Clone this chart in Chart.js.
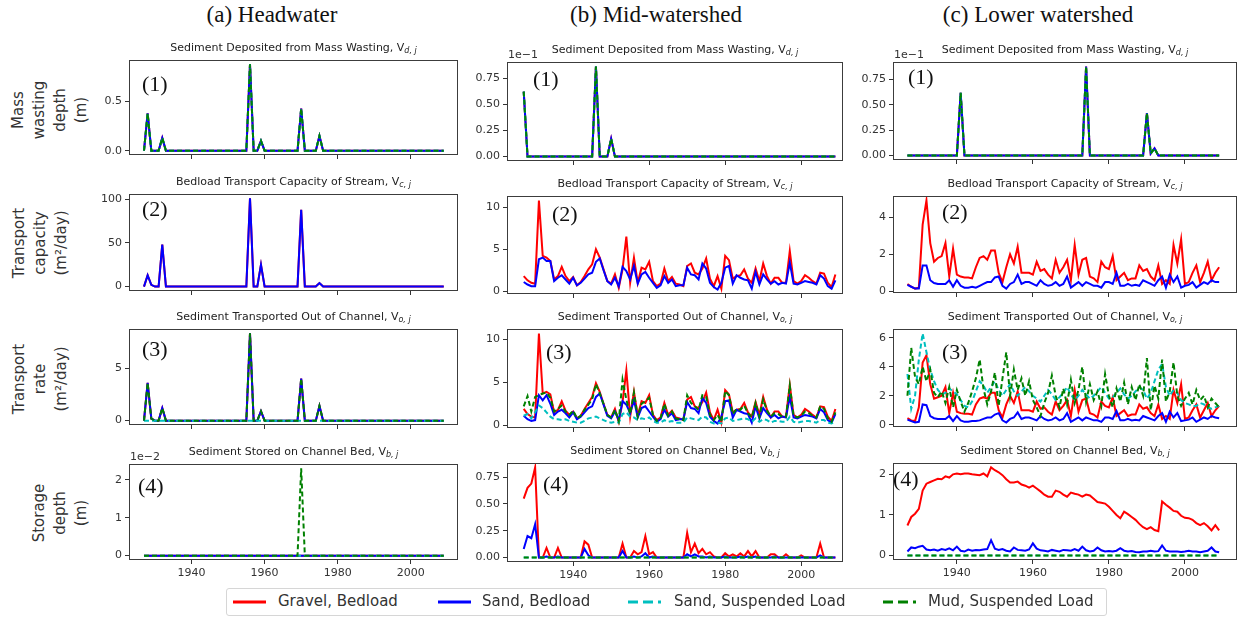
<!DOCTYPE html>
<html>
<head>
<meta charset="utf-8">
<script src="https://cdn.jsdelivr.net/npm/chart.js@4.4.1/dist/chart.umd.min.js"></script>
<style>
  body { margin:0; background:#fff; width:1244px; height:618px; position:relative; overflow:hidden; font-family:"DejaVu Sans", sans-serif; }
  canvas { position:absolute; }
  .colhead { position:absolute; top:2px; font-family:"Liberation Serif","Times New Roman",serif; font-size:23px; color:#111; transform:translateX(-50%); white-space:nowrap; }
  .ptitle { position:absolute; font-size:11px; color:#222; transform:translate(-50%,-50%); white-space:nowrap; }
  .ptitle sub { font-size:8px; font-style:italic; vertical-align:-2px; }
  .num { position:absolute; font-family:"Liberation Serif","Times New Roman",serif; font-size:22px; line-height:22px; color:#111; }
  .offset { position:absolute; font-size:11px; color:#333; transform:translateY(-50%); }
  .rowlab { position:absolute; font-size:15px; line-height:21px; color:#333; text-align:center; white-space:nowrap; transform:translate(-50%,-50%) rotate(-90deg); }
  .legend { position:absolute; left:226px; top:588px; width:879px; height:26px; border:1px solid #d6d6d6; border-radius:3px; background:#fff; }
  .legend svg { position:absolute; top:6px; }
  .legend span { position:absolute; top:3px; font-size:15px; color:#333; white-space:nowrap; }
</style>
</head>
<body>
<script>
const years = Array.from({length: 83}, (_, i) => 1927 + i);
const xTicks = [1940, 1960, 1980, 2000];

const flatZero = [
  0,0,0,0,0,0,0,0,0,0, 0,0,0,0,0,0,0,0,0,0, 0,0,0,0,0,0,0,0,0,0,
  0,0,0,0,0,0,0,0,0,0, 0,0,0,0,0,0,0,0,0,0, 0,0,0,0,0,0,0,0,0,0,
  0,0,0,0,0,0,0,0,0,0, 0,0,0,0,0,0,0,0,0,0, 0,0,0];

// (a) headwater
const headMass = [
  0,0.38,0,0,0,0.13,0,0,0,0, 0,0,0,0,0,0,0,0,0,0, 0,0,0,0,0,0,0,0,0,0.88,
  0,0,0.10,0,0,0,0,0,0,0, 0,0,0,0.43,0,0,0,0,0.15,0, 0,0,0,0,0,0,0,0,0,0,
  0,0,0,0,0,0,0,0,0,0, 0,0,0,0,0,0,0,0,0,0, 0,0,0];
const headCap = [
  0,13,2,0,0,48,0,0,0,0, 0,0,0,0,0,0,0,0,0,0, 0,0,0,0,0,0,0,0,0,101,
  0,0,25,0,0,0,0,0,0,0, 0,0,0,88,0,0,0,0,4,0, 0,0,0,0,0,0,0,0,0,0,
  0,0,0,0,0,0,0,0,0,0, 0,0,0,0,0,0,0,0,0,0, 0,0,0];
const headRate = [
  0,3.6,0.2,0,0,1.2,0,0,0,0, 0,0,0,0,0,0,0,0,0,0, 0,0,0,0,0,0,0,0,0,8.3,
  0,0,0.9,0,0,0,0,0,0,0, 0,0,0,4.0,0,0,0,0,1.4,0, 0,0,0,0,0,0,0,0,0,0,
  0,0,0,0,0,0,0,0,0,0, 0,0,0,0,0,0,0,0,0,0, 0,0,0];
const headStoreMud = [
  0,0,0,0,0,0,0,0,0,0, 0,0,0,0,0,0,0,0,0,0, 0,0,0,0,0,0,0,0,0,0,
  0,0,0,0,0,0,0,0,0,0, 0,0,0,0.023,0,0,0,0,0,0, 0,0,0,0,0,0,0,0,0,0,
  0,0,0,0,0,0,0,0,0,0, 0,0,0,0,0,0,0,0,0,0, 0,0,0];

// (b) mid-watershed
const midMass = [
  0.062,0,0,0,0,0,0,0,0,0, 0,0,0,0,0,0,0,0,0,0.086, 0,0,0,0.017,0,0,0,0,0,0,
  0,0,0,0,0,0,0,0,0,0, 0,0,0,0,0,0,0,0,0,0, 0,0,0,0,0,0,0,0,0,0,
  0,0,0,0,0,0,0,0,0,0, 0,0,0,0,0,0,0,0,0,0, 0,0,0];
const midCapGravel = [
  1.8,1.3,1.0,0.9,10.8,4.2,4.0,3.6,1.4,1.8, 2.9,1.8,1.2,1.7,0.7,1.1,1.8,2.6,3.2,5.0,
  4.0,2.6,1.2,0.9,2.0,0.4,2.6,6.5,1.0,4.0, 1.0,2.8,2.6,3.5,1.2,0.6,0.9,2.7,1.2,1.7,
  0.9,0.8,0.6,3.0,3.3,2.2,2.0,2.7,3.9,1.5, 0.6,1.8,0.3,4.2,3.7,1.5,1.8,1.9,2.6,1.5,
  1.0,2.7,1.2,3.3,1.8,0.9,1.6,1.6,1.0,1.0, 4.8,1.2,0.9,1.2,1.9,1.6,1.2,0.9,2.2,2.1,
  1.0,0.5,2.0];
const midCapSand = [
  1.1,0.8,0.6,0.6,3.8,4.0,3.6,3.6,1.2,1.6, 1.9,1.4,0.9,1.6,0.7,1.0,1.5,2.0,2.2,3.5,
  3.9,2.5,1.2,0.8,1.6,0.6,2.9,2.4,1.4,3.0, 0.9,2.0,2.3,1.6,1.0,0.4,0.7,1.8,1.0,1.4,
  0.6,0.7,0.7,2.8,2.0,1.9,1.4,3.3,2.7,1.0, 0.5,0.2,1.0,2.8,3.0,0.9,1.9,1.6,1.4,1.3,
  0.3,2.3,0.8,2.0,1.4,0.9,1.2,0.8,1.0,0.9, 3.4,0.9,0.8,1.0,1.2,1.1,1.0,0.8,1.9,1.5,
  0.6,0.3,1.3];
const midRateGravel = [
  1.9,1.3,1.0,0.9,10.7,3.7,3.9,3.6,1.5,1.8, 2.8,1.7,1.2,1.6,0.8,1.1,1.9,2.6,3.3,4.9,
  3.9,2.5,1.2,0.9,1.9,0.4,2.7,6.4,1.0,3.9, 1.1,2.8,2.6,3.5,1.2,0.6,0.9,2.6,1.2,1.7,
  0.9,0.8,0.6,3.0,3.3,2.2,2.0,2.7,3.8,1.5, 0.6,1.8,0.3,4.1,3.6,1.5,1.8,1.9,2.6,1.5,
  1.0,2.7,1.2,3.3,1.8,0.9,1.6,1.6,1.0,1.0, 4.7,1.2,0.9,1.2,1.9,1.6,1.2,0.9,2.2,2.1,
  1.0,0.5,1.9];
const midRateSand = [
  1.1,0.7,0.5,0.6,3.5,2.9,3.5,2.5,1.2,1.6, 1.8,1.4,0.9,1.5,0.7,1.0,1.5,2.0,2.2,3.3,
  3.7,2.4,1.1,0.8,1.6,0.6,2.8,2.4,1.4,2.9, 0.9,2.0,2.2,1.6,1.0,0.4,0.7,1.8,1.0,1.4,
  0.6,0.7,0.7,2.7,2.0,1.9,1.4,3.2,2.6,1.0, 0.5,0.2,1.0,2.8,2.9,0.9,1.8,1.6,1.4,1.3,
  0.3,2.2,0.8,2.0,1.4,0.9,1.2,0.8,1.0,0.9, 3.3,0.9,0.8,1.0,1.2,1.1,1.0,0.8,1.9,1.5,
  0.6,0.3,1.3];
const midRateSandSusp = [
  1.1,1.3,0.8,1.5,2.3,2.0,1.5,1.0,0.7,0.7, 0.6,0.7,0.5,0.4,0.3,0.3,0.5,0.8,0.9,1.0,
  0.8,0.6,0.4,0.3,0.4,0.3,1.3,1.5,1.0,0.9, 0.6,0.8,0.7,0.9,0.5,0.3,0.3,0.6,0.4,0.5,
  0.3,0.3,0.3,0.9,0.8,0.7,0.6,1.0,0.9,0.4, 0.2,0.3,0.2,0.8,0.9,0.5,0.6,0.7,0.8,0.7,
  0.4,0.8,0.4,0.7,0.6,0.3,0.5,0.5,0.4,0.4, 1.0,0.4,0.3,0.4,0.5,0.5,0.4,0.3,0.6,0.6,
  0.3,0.2,0.5];
const midRateMud = [
  2.2,3.4,1.6,3.3,3.5,3.7,3.8,3.2,1.6,1.9, 2.3,1.6,1.2,1.7,0.8,1.1,1.8,2.4,3.0,4.8,
  3.7,2.5,1.2,0.9,1.8,0.5,5.3,3.0,1.3,3.8, 1.0,2.5,2.8,3.2,1.2,0.5,0.8,2.5,1.1,1.6,
  0.8,0.7,0.6,3.5,2.6,2.2,1.8,3.5,3.3,1.2, 0.6,1.2,0.4,4.0,3.5,1.3,1.9,1.8,2.3,1.4,
  0.9,2.6,1.0,3.0,1.7,1.0,1.4,1.3,1.0,1.0, 4.6,1.1,0.9,1.1,1.6,1.4,1.1,0.9,2.2,1.9,
  0.8,0.4,1.5];
const midStoreGravel = [
  0.55,0.65,0.69,0.84,0,0,0.09,0,0,0.09, 0,0,0,0,0,0,0.15,0.12,0,0,
  0,0,0,0,0,0,0.13,0,0,0.06, 0.03,0.05,0.2,0.03,0.05,0,0,0,0,0,
  0,0,0,0.23,0.05,0.13,0.04,0.08,0.03,0.05, 0.01,0,0,0.04,0.01,0.03,0.01,0.04,0.01,0.06,
  0.01,0.06,0,0,0,0.03,0.03,0,0,0.03, 0,0,0,0.02,0,0,0,0,0.13,0,
  0,0,0];
const midStoreSand = [
  0.08,0.2,0.18,0.31,0,0,0.01,0,0,0.01, 0,0,0,0,0,0,0.08,0.02,0,0,
  0,0,0,0,0,0,0.06,0,0,0.01, 0,0.01,0.04,0,0.01,0,0,0,0,0,
  0,0,0,0.03,0.01,0.03,0.01,0.01,0,0.01, 0,0,0,0.01,0,0,0,0.01,0,0.01,
  0,0.01,0,0,0,0,0.01,0,0,0, 0,0,0,0,0,0,0,0,0.02,0,
  0,0,0];

// (c) lower watershed
const lowMass = [
  0,0,0,0,0,0,0,0,0,0, 0,0,0,0,0.062,0,0,0,0,0, 0,0,0,0,0,0,0,0,0,0,
  0,0,0,0,0,0,0,0,0,0, 0,0,0,0,0,0,0,0.088,0,0, 0,0,0,0,0,0,0,0,0,0,
  0,0,0,0.042,0.002,0.007,0,0,0,0, 0,0,0,0,0,0,0,0,0,0, 0,0,0];
const lowCapGravel = [
  0.4,0.25,0.15,0.2,3.6,4.9,2.6,1.6,1.8,1.9, 2.6,0.8,2.3,0.9,0.8,0.75,0.75,0.7,1.3,1.8,
  1.9,1.7,2.2,2.2,1.0,0.5,1.3,2.0,1.5,2.4, 1.0,1.0,1.0,0.9,1.6,1.1,1.2,0.9,0.7,1.7,
  1.0,1.3,1.7,0.6,2.5,0.9,1.7,1.8,0.8,0.7, 0.5,1.6,1.3,1.2,1.9,0.6,0.8,1.0,0.6,0.7,
  0.7,1.4,1.1,1.2,0.8,0.6,1.4,0.4,0.6,0.4, 2.5,1.5,2.8,0.4,0.5,1.0,1.4,0.5,1.0,1.6,
  0.6,1.0,1.3];
const lowCapSand = [
  0.35,0.25,0.15,0.15,1.4,1.4,0.6,0.45,0.4,0.4, 0.4,0.6,0.25,0.6,0.3,0.2,0.2,0.25,0.2,0.3,
  0.4,0.5,0.5,0.75,0.8,0.3,0.15,0.4,0.5,0.9, 0.4,0.5,0.5,0.4,0.3,0.6,0.4,0.3,0.35,0.5,
  0.3,0.4,0.8,0.2,0.35,0.5,0.3,0.5,0.4,0.3, 0.3,0.2,0.5,0.5,0.4,1.0,0.3,0.3,0.4,0.3,
  0.35,0.3,0.6,0.5,0.4,0.3,0.6,0.8,0.2,0.9, 0.5,0.8,0.2,0.3,0.35,0.5,0.2,0.35,0.5,0.4,
  0.6,0.5,0.5];
const lowRateGravel = [
  0.45,0.3,0.25,1.2,4.3,4.8,2.8,1.8,1.9,2.0, 2.6,0.8,2.2,0.9,0.8,0.75,0.75,0.7,1.4,1.8,
  1.9,1.8,2.2,2.2,1.0,0.5,1.4,2.0,1.5,2.3, 1.0,1.0,1.0,0.9,1.6,1.1,1.2,0.9,0.7,1.6,
  1.0,1.3,1.7,0.6,2.4,0.9,1.7,1.8,0.8,0.7, 0.5,1.6,1.3,1.2,1.9,0.6,0.8,1.0,0.6,0.7,
  0.7,1.4,1.1,1.2,0.8,0.6,1.4,0.4,0.6,0.4, 2.4,1.5,2.8,0.4,0.5,1.0,1.4,0.5,1.0,1.5,
  0.6,1.0,1.3];
const lowRateSand = [
  0.35,0.25,0.15,0.2,1.4,1.35,0.6,0.45,0.4,0.4, 0.4,0.6,0.25,0.6,0.3,0.2,0.2,0.25,0.25,0.3,
  0.4,0.5,0.5,0.7,0.8,0.3,0.15,0.4,0.5,0.85, 0.4,0.5,0.5,0.4,0.3,0.6,0.4,0.3,0.35,0.5,
  0.3,0.4,0.8,0.2,0.35,0.5,0.3,0.5,0.4,0.3, 0.3,0.2,0.5,0.5,0.4,0.95,0.3,0.3,0.4,0.3,
  0.35,0.3,0.6,0.5,0.4,0.3,0.6,0.8,0.2,0.9, 0.5,0.8,0.25,0.3,0.35,0.5,0.2,0.35,0.5,0.4,
  0.6,0.5,0.45];
const lowRateSandSusp = [
  3.5,1.1,2.0,4.5,6.3,5.0,3.8,3.0,2.4,2.1, 2.2,2.5,2.3,2.1,1.7,1.3,1.2,1.6,2.3,3.0,
  2.7,2.2,2.6,3.0,2.4,2.0,2.4,2.8,2.3,2.0, 2.3,2.6,2.3,2.0,1.8,1.6,2.0,2.4,2.1,1.7,
  1.9,2.2,2.6,2.1,1.7,2.0,2.4,2.1,1.8,2.0, 2.3,2.6,2.2,1.8,1.9,2.2,2.5,2.1,1.8,2.0,
  2.3,2.6,2.4,1.8,2.2,3.0,3.8,4.2,2.6,2.0, 2.4,2.2,1.7,1.5,1.4,1.3,1.3,1.5,1.4,1.2,
  1.1,1.2,1.3];
const lowRateMud = [
  2.0,5.3,3.3,2.8,4.0,3.0,3.8,2.2,1.9,2.3, 1.5,2.6,1.2,2.4,1.6,0.9,1.5,2.3,3.2,4.5,
  2.5,1.4,2.3,3.6,1.3,3.2,5.0,2.0,3.8,2.4, 3.2,2.0,3.0,1.7,1.2,0.6,1.5,2.2,3.4,2.0,
  1.2,2.5,1.4,3.1,1.5,2.4,4.0,1.6,2.8,1.7, 2.3,1.3,3.5,2.0,1.2,2.5,1.6,2.9,1.4,2.6,
  1.7,2.8,2.0,4.6,1.0,2.7,1.8,4.5,1.6,2.3, 4.3,2.0,1.3,1.8,2.2,1.4,2.4,1.7,2.0,1.2,
  1.8,1.5,1.2];
const lowStoreGravel = [
  0.74,0.95,1.03,1.15,1.6,1.77,1.81,1.85,1.89,1.88, 1.95,1.92,2.0,2.02,2.0,2.02,2.02,2.0,1.99,1.98,
  2.02,1.95,2.17,2.1,2.05,1.98,1.88,1.8,1.8,1.82, 1.75,1.72,1.67,1.72,1.65,1.58,1.5,1.45,1.45,1.6,
  1.57,1.5,1.45,1.55,1.52,1.5,1.45,1.5,1.48,1.4, 1.32,1.3,1.28,1.2,1.1,1.0,0.92,1.08,1.02,0.95,
  0.88,0.78,0.7,0.65,0.7,0.63,0.6,1.33,1.25,1.18, 1.1,1.08,0.98,0.93,0.92,0.88,0.8,0.75,0.8,0.72,
  0.62,0.75,0.62];
const lowStoreSand = [
  0.1,0.2,0.18,0.22,0.24,0.15,0.13,0.15,0.12,0.16, 0.14,0.18,0.13,0.22,0.12,0.1,0.15,0.12,0.14,0.13,
  0.15,0.16,0.38,0.17,0.14,0.16,0.12,0.1,0.2,0.14, 0.13,0.12,0.15,0.3,0.17,0.13,0.12,0.1,0.14,0.12,
  0.1,0.14,0.13,0.12,0.16,0.12,0.22,0.13,0.1,0.12, 0.2,0.13,0.1,0.11,0.1,0.12,0.18,0.12,0.1,0.11,
  0.09,0.08,0.1,0.1,0.12,0.1,0.11,0.25,0.12,0.1, 0.1,0.1,0.09,0.1,0.12,0.1,0.1,0.08,0.1,0.12,
  0.2,0.1,0.08];

// ---- styling / layout ----
const seriesStyle = {
  gravel:   { label: 'Gravel, Bedload',       color: '#ff0000', dash: [],    order: 3 },
  sand:     { label: 'Sand, Bedload',         color: '#0000ff', dash: [],    order: 2 },
  sandSusp: { label: 'Sand, Suspended Load',  color: '#00bfbf', dash: [5,3], order: 1 },
  mud:      { label: 'Mud, Suspended Load',   color: '#008000', dash: [5,3], order: 0 }
};

const columns = [
  { head: '(a) Headwater', cx: 272, left: 129, right: 458, xMin: 1922.9, xMax: 2012.9,
    rows: [[60,155],[194,291],[329,425],[464,560]] },
  { head: '(b) Mid-watershed', cx: 656, left: 507, right: 843, xMin: 1922.6, xMax: 2011.0,
    rows: [[62,161],[196,294],[329,428],[463,562]] },
  { head: '(c) Lower watershed', cx: 1038, left: 893, right: 1237, xMin: 1923.2, xMax: 2013.7,
    rows: [[62,160],[196,293],[329,427],[463,560]] }
];

const titles = [
  ['Sediment Deposited from Mass Wasting, V', 'd, j'],
  ['Bedload Transport Capacity of Stream, V', 'c, j'],
  ['Sediment Transported Out of Channel, V', 'o, j'],
  ['Sediment Stored on Channel Bed, V', 'b, j']
];

const rowLabels = [
  { lines: ['Mass', 'wasting', 'depth', '(m)'], cx: 50, cy: 110 },
  { lines: ['Transport', 'capacity', '(m²/day)'], cx: 40, cy: 243 },
  { lines: ['Transport', 'rate', '(m²/day)'], cx: 40, cy: 379 },
  { lines: ['Storage', 'depth', '(m)'], cx: 60, cy: 513 }
];

const panels = [
  { col:0, row:0, num:[13,13], yTicks:[0,0.5], dec:1, scale:1,
    series:{ gravel:headMass, sand:headMass, sandSusp:headMass, mud:headMass } },
  { col:0, row:1, num:[13,4], yTicks:[0,50,100], dec:0, scale:1,
    series:{ gravel:headCap, sand:headCap } },
  { col:0, row:2, num:[13,9], yTicks:[0,5], dec:0, scale:1,
    series:{ gravel:headRate, sand:headRate, sandSusp:flatZero, mud:headRate } },
  { col:0, row:3, num:[9,11], yTicks:[0,0.01,0.02], dec:0, scale:0.01, offset:'1e\u22122',
    series:{ gravel:flatZero, sand:flatZero, sandSusp:flatZero, mud:headStoreMud } },

  { col:1, row:0, num:[26,6], yTicks:[0,0.025,0.05,0.075], dec:2, scale:0.1, offset:'1e\u22121',
    series:{ gravel:midMass, sand:midMass, sandSusp:midMass, mud:midMass } },
  { col:1, row:1, num:[45,7], yTicks:[0,5,10], dec:0, scale:1,
    series:{ gravel:midCapGravel, sand:midCapSand } },
  { col:1, row:2, num:[39,12], yTicks:[0,5,10], dec:0, scale:1,
    series:{ gravel:midRateGravel, sand:midRateSand, sandSusp:midRateSandSusp, mud:midRateMud } },
  { col:1, row:3, num:[36,10], yTicks:[0,0.25,0.5,0.75], dec:2, scale:1,
    series:{ gravel:midStoreGravel, sand:midStoreSand, sandSusp:flatZero, mud:flatZero } },

  { col:2, row:0, num:[15,4], yTicks:[0,0.025,0.05,0.075], dec:2, scale:0.1, offset:'1e\u22121',
    series:{ gravel:lowMass, sand:lowMass, sandSusp:lowMass, mud:lowMass } },
  { col:2, row:1, num:[49,5], yTicks:[0,2,4], dec:0, scale:1,
    series:{ gravel:lowCapGravel, sand:lowCapSand } },
  { col:2, row:2, num:[49,12], yTicks:[0,2,4,6], dec:0, scale:1,
    series:{ gravel:lowRateGravel, sand:lowRateSand, sandSusp:lowRateSandSusp, mud:lowRateMud } },
  { col:2, row:3, num:[0,5], yTicks:[0,1,2], dec:0, scale:1,
    series:{ gravel:lowStoreGravel, sand:lowStoreSand, sandSusp:flatZero, mud:flatZero } }
];

const PAD_L = 60, PAD_T = 10, PAD_R = 6;
const tickFont = { family: 'DejaVu Sans', size: 11 };

const framePlugin = {
  id: 'frame',
  afterDatasetsDraw(chart) {
    const { ctx, chartArea: a } = chart;
    ctx.save();
    ctx.strokeStyle = '#3c3c3c';
    ctx.lineWidth = 1;
    ctx.strokeRect(Math.round(a.left) + 0.5, Math.round(a.top) + 0.5,
                   Math.round(a.right - a.left) - 1, Math.round(a.bottom - a.top) - 1);
    ctx.restore();
  }
};

function addDiv(cls, html, styles) {
  const d = document.createElement('div');
  d.className = cls;
  d.innerHTML = html;
  Object.assign(d.style, styles);
  document.body.appendChild(d);
  return d;
}

columns.forEach(c => addDiv('colhead', c.head, { left: c.cx + 'px' }));
rowLabels.forEach(r => addDiv('rowlab', r.lines.join('<br>'), { left: r.cx + 'px', top: r.cy + 'px' }));

panels.forEach(p => {
  const col = columns[p.col];
  const [top, bottom] = col.rows[p.row];
  const isBottom = p.row === 3;
  const xH = isBottom ? 26 : 12;
  const plotW = col.right - col.left, plotH = bottom - top;

  const canvas = document.createElement('canvas');
  canvas.width = plotW + PAD_L + PAD_R;
  canvas.height = plotH + PAD_T + xH;
  canvas.style.left = (col.left - PAD_L) + 'px';
  canvas.style.top = (top - PAD_T) + 'px';
  document.body.appendChild(canvas);

  const keys = Object.keys(p.series);
  const all = keys.flatMap(k => p.series[k]);
  const lo = Math.min(...all), hi = Math.max(...all);
  const m = (hi - lo) * 0.05;

  const datasets = keys.map(k => ({
    label: seriesStyle[k].label,
    data: p.series[k],
    borderColor: seriesStyle[k].color,
    borderDash: seriesStyle[k].dash,
    order: seriesStyle[k].order,
    borderWidth: 2,
    pointRadius: 0,
    tension: 0,
    fill: false
  }));

  new Chart(canvas.getContext('2d'), {
    type: 'line',
    data: { labels: years, datasets },
    options: {
      responsive: false,
      animation: false,
      devicePixelRatio: 1,
      layout: { padding: { left: 0, top: PAD_T, right: PAD_R, bottom: 0 } },
      plugins: { legend: { display: false }, tooltip: { enabled: false } },
      scales: {
        x: {
          type: 'linear', min: col.xMin, max: col.xMax,
          afterBuildTicks: ax => { ax.ticks = xTicks.map(v => ({ value: v })); },
          afterFit: ax => { ax.height = xH; },
          ticks: { display: isBottom, font: tickFont, color: '#333', padding: 3, maxRotation: 0,
                   callback: v => String(v) },
          grid: { drawOnChartArea: false, drawTicks: true, tickLength: 4, color: '#333' },
          border: { display: false }
        },
        y: {
          type: 'linear', min: lo - m, max: hi + m,
          afterBuildTicks: ax => { ax.ticks = p.yTicks.map(v => ({ value: v })); },
          afterFit: ax => { ax.width = PAD_L; },
          ticks: { font: tickFont, color: '#333', padding: 3,
                   callback: v => (v / p.scale).toFixed(p.dec) },
          grid: { drawOnChartArea: false, drawTicks: true, tickLength: 4, color: '#333' },
          border: { display: false }
        }
      }
    },
    plugins: [framePlugin]
  });

  const t = titles[p.row];
  addDiv('ptitle', t[0] + '<sub>' + t[1] + '</sub>',
         { left: ((col.left + col.right) / 2) + 'px', top: (top - 12) + 'px' });
  addDiv('num', '(' + (p.row + 1) + ')',
         { left: (col.left + p.num[0]) + 'px', top: (top + p.num[1]) + 'px' });
  if (p.offset) addDiv('offset', p.offset, { left: (col.left + 1) + 'px', top: (top - 8) + 'px' });
});

// legend
const legendItems = [
  { key: 'gravel',   sw: 6,   tx: 51 },
  { key: 'sand',     sw: 211, tx: 255 },
  { key: 'sandSusp', sw: 401, tx: 447 },
  { key: 'mud',      sw: 656, tx: 701 }
];
const legend = addDiv('legend', '', {});
legendItems.forEach(it => {
  const s = seriesStyle[it.key];
  const dash = s.dash.length ? 'stroke-dasharray="10,5"' : '';
  legend.insertAdjacentHTML('beforeend',
    `<svg width="34" height="14" style="left:${it.sw}px"><line x1="0" y1="7" x2="33" y2="7" stroke="${s.color}" stroke-width="3" ${dash}/></svg>` +
    `<span style="left:${it.tx}px">${s.label}</span>`);
});
</script>
</body>
</html>
